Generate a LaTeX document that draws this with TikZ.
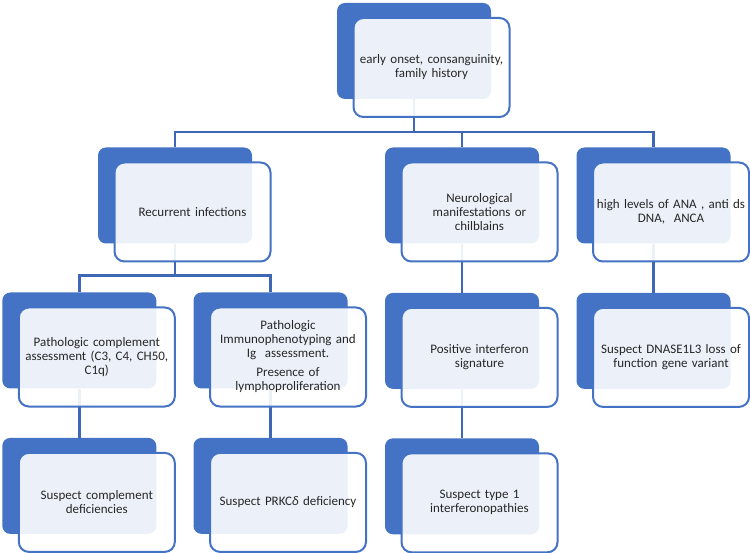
\documentclass[tikz,border=0pt]{standalone}
\usepackage{fontspec}
\setmainfont{Carlito}
\usetikzlibrary{positioning, backgrounds}

\definecolor{boxblue}{RGB}{68,114,196}
\definecolor{lineblue}{RGB}{62,104,182}

\tikzset{
  back/.style={fill=boxblue, rounded corners=8pt, minimum width=154pt, minimum height=96pt, inner sep=0pt},
  front/.style={draw=boxblue, line width=2pt, fill=white, fill opacity=0.9, text opacity=1,
    rounded corners=10pt, minimum width=156pt, minimum height=99pt, inner sep=0pt,
    align=center, text width=154pt, text=black!85, font=\fontsize{13}{14}\selectfont,
    xshift=17.5pt, yshift=-16.5pt},
  conn/.style={draw=lineblue, line width=2.5pt},
}

\begin{document}
\begin{tikzpicture}[x=1pt, y=-1pt]
\useasboundingbox (0,0) rectangle (750,553);

\node[back] (b0) at (414,51) {};
\node[back] (b1) at (175,195.5) {};
\node[back] (b2) at (462,195.5) {};
\node[back] (b3) at (653.5,195.5) {};
\node[back] (b4) at (79.3,340.5) {};
\node[back] (b5) at (270.5,340.5) {};
\node[back] (b6) [below=49pt of b2] {};
\node[back] (b7) [below=49pt of b3] {};
\node[back] (b8) [below=49pt of b4] {};
\node[back] (b9) [below=49pt of b5] {};
\node[back] (b10) [below=49pt of b6] {};

\node[front] (f0) at (b0) {early onset, consanguinity,\\ family history};
\node[front] (f1) at (b1) {Recurrent infections};
\node[front] (f2) at (b2) {Neurological\\ manifestations or\\ chilblains};
\node[front] (f3) at (b3) {high levels of ANA , anti ds\\ DNA,\ \ ANCA};
\node[front] (f4) at (b4) {Pathologic complement\\ assessment (C3, C4, CH50,\\ C1q)};
\node[front] (f5) at (b5) {Pathologic\\ Immunophenotyping and\\ Ig\ \ assessment.\\[5pt] Presence of\\ lymphoproliferation};
\node[front] (f6) at (b6) {Positive interferon\\ signature};
\node[front] (f7) at (b7) {Suspect DNASE1L3 loss of\\ function gene variant};
\node[front] (f8) at (b8) {Suspect complement\\ deficiencies};
\node[front] (f9) at (b9) {Suspect PRKC\textit{δ} deficiency};
\node[front] (f10) at (b10) {Suspect type 1\\ interferonopathies};

\begin{scope}[on background layer]
\draw[conn] (b0.south) -- ++(0,33) -| (b1.north);
\draw[conn] (b0.south) -- ++(0,33) -| (b2.north);
\draw[conn] (b0.south) -- ++(0,33) -| (b3.north);
\draw[conn] (b1.south) -- ++(0,32) -| (b4.north);
\draw[conn] (b1.south) -- ++(0,32) -| (b5.north);
\draw[conn] (b2.south) -- (b6.north);
\draw[conn] (b3.south) -- (b7.north);
\draw[conn] (b4.south) -- (b8.north);
\draw[conn] (b5.south) -- (b9.north);
\draw[conn] (b6.south) -- (b10.north);
\end{scope}
\end{tikzpicture}
\end{document}
